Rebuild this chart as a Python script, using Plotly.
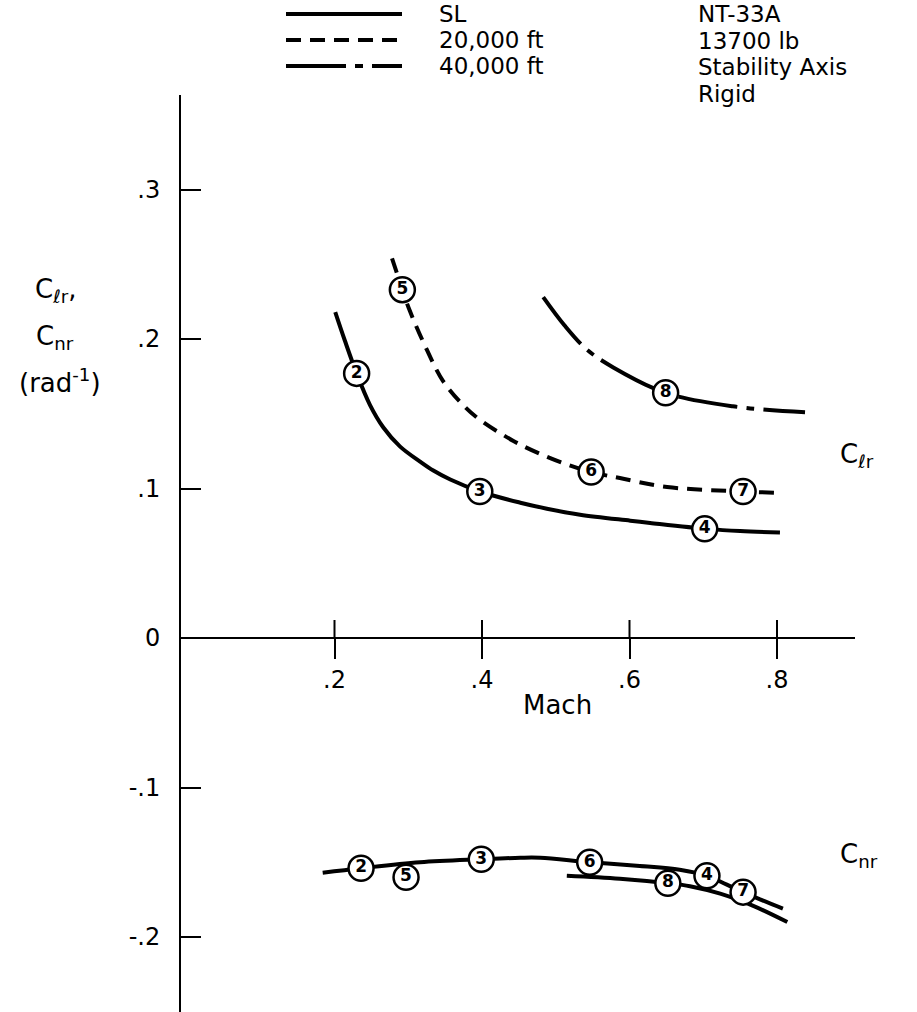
import plotly.graph_objects as go

# ---------------------------------------------------------------
# NT-33A yaw-rate derivatives vs Mach (stability axis, rigid)
# ---------------------------------------------------------------

# Cl_r faired curves
sl_clr_mach = [0.201, 0.214, 0.230, 0.248, 0.266, 0.289, 0.316, 0.334, 0.357,
               0.397, 0.452, 0.488, 0.533, 0.601, 0.628, 0.705, 0.750, 0.804]
sl_clr = [0.218, 0.199, 0.177, 0.156, 0.141, 0.128, 0.118, 0.112, 0.106,
          0.098, 0.0905, 0.0865, 0.0825, 0.0785, 0.077, 0.073, 0.0715, 0.0705]

ft20k_clr_mach = [0.278, 0.292, 0.302, 0.325, 0.347, 0.374, 0.397, 0.442,
                  0.475, 0.510, 0.548, 0.587, 0.651, 0.754, 0.808]
ft20k_clr = [0.254, 0.233, 0.219, 0.193, 0.172, 0.156, 0.146, 0.132,
             0.124, 0.117, 0.111, 0.107, 0.101, 0.098, 0.097]

ft40k_clr_mach = [0.483, 0.512, 0.542, 0.578, 0.649, 0.740, 0.838]
ft40k_clr = [0.228, 0.209, 0.193, 0.181, 0.164, 0.155, 0.151]

# Cn_r faired curves
cnr_upper_mach = [0.184, 0.236, 0.316, 0.399, 0.452, 0.479, 0.546, 0.614,
                  0.668, 0.705, 0.732, 0.773, 0.808]
cnr_upper = [-0.157, -0.154, -0.150, -0.148, -0.147, -0.147, -0.150, -0.1525,
             -0.155, -0.159, -0.165, -0.174, -0.181]

cnr_lower_mach = [0.515, 0.587, 0.652, 0.682, 0.723, 0.767, 0.814]
cnr_lower = [-0.159, -0.161, -0.164, -0.166, -0.171, -0.179, -0.190]

# Flight conditions (circled numbers)
cond_labels = ["2", "3", "4", "5", "6", "7", "8"]
cond_clr_mach = [0.230, 0.397, 0.702, 0.292, 0.548, 0.754, 0.649]
cond_clr = [0.177, 0.098, 0.073, 0.233, 0.111, 0.098, 0.164]
cond_cnr_mach = [0.236, 0.399, 0.705, 0.297, 0.546, 0.754, 0.652]
cond_cnr = [-0.154, -0.148, -0.159, -0.160, -0.150, -0.170, -0.164]

# Axis ticks
x_tickvals = [0.2, 0.4, 0.6, 0.8]
x_ticktext = [".2", ".4", ".6", ".8"]
y_tickvals = [-0.2, -0.1, 0.0, 0.1, 0.2, 0.3]
y_ticktext = ["-.2", "-.1", "0", ".1", ".2", ".3"]

# Legend / annotation text
legend_names = ["SL", "20,000 ft", "40,000 ft"]
info_lines = ["NT-33A", "13700 lb", "Stability Axis", "Rigid"]

# ---------------------------------------------------------------
W, H = 917, 1012
M_L, M_R, M_T, M_B = 181, 62, 95, 0
FONT = "DejaVu Sans"
INK = "black"
DASH_20K = "15px,9px"
DASH_40K = "60px,9px,8px,9px"


def paper(xp, yp):
    """Convert page pixels to paper coordinates."""
    return ((xp - M_L) / (W - M_L - M_R), (H - M_B - yp) / (H - M_T - M_B))


fig = go.Figure()

line_style = dict(color=INK, width=4, shape="spline", smoothing=1.0)

fig.add_trace(go.Scatter(x=sl_clr_mach, y=sl_clr, mode="lines",
                         line=line_style, name="SL Clr"))
fig.add_trace(go.Scatter(x=ft20k_clr_mach, y=ft20k_clr, mode="lines",
                         line=dict(line_style, dash=DASH_20K), name="20k Clr"))
fig.add_trace(go.Scatter(x=ft40k_clr_mach, y=ft40k_clr, mode="lines",
                         line=dict(line_style, dash=DASH_40K), name="40k Clr"))
fig.add_trace(go.Scatter(x=cnr_upper_mach, y=cnr_upper, mode="lines",
                         line=line_style, name="Cnr a"))
fig.add_trace(go.Scatter(x=cnr_lower_mach, y=cnr_lower, mode="lines",
                         line=line_style, name="Cnr b"))

marker_style = dict(size=25, color="white", line=dict(color=INK, width=2.5))
num_font = dict(family=FONT, size=17, color=INK, weight="bold")
for xs, ys in ((cond_clr_mach, cond_clr), (cond_cnr_mach, cond_cnr)):
    fig.add_trace(go.Scatter(x=xs, y=ys, mode="markers+text", text=cond_labels,
                             textposition="middle center", textfont=num_font,
                             marker=marker_style, cliponaxis=False))

shapes = []
annotations = []

# Upper half of the crossing Mach ticks
for v in x_tickvals:
    shapes.append(dict(type="line", xref="x", yref="y", ysizemode="pixel",
                       yanchor=0, x0=v, x1=v, y0=0, y1=18,
                       line=dict(color=INK, width=2)))

# Legend keys
legend_dash = ["solid", DASH_20K, DASH_40K]
legend_y = [14, 40, 66]
text_font = dict(family=FONT, size=23, color=INK)
label_font = dict(family=FONT, size=26, color=INK)
for name, dash, yp in zip(legend_names, legend_dash, legend_y):
    x0, y0 = paper(286, yp)
    x1, _ = paper(402, yp)
    shapes.append(dict(type="line", xref="paper", yref="paper",
                       x0=x0, x1=x1, y0=y0, y1=y0,
                       line=dict(color=INK, width=4, dash=dash)))
    tx, ty = paper(437, yp)
    annotations.append(dict(text=name, xref="paper", yref="paper", x=tx, y=ty,
                            xanchor="left", yanchor="middle", showarrow=False,
                            font=text_font))

for txt, yp in zip(info_lines, [14, 41, 67, 94]):
    tx, ty = paper(696, yp)
    annotations.append(dict(text=txt, xref="paper", yref="paper", x=tx, y=ty,
                            xanchor="left", yanchor="middle", showarrow=False,
                            font=text_font))

# Axis titles and curve labels
for txt, xp, yp in [("C<sub>ℓr</sub>,", 55, 290),
                    ("C<sub>nr</sub>", 55, 337),
                    ("(rad<sup>-1</sup>)", 60, 381),
                    ("Mach", 557, 705),
                    ("C<sub>ℓr</sub>", 857, 455),
                    ("C<sub>nr</sub>", 859, 855)]:
    tx, ty = paper(xp, yp)
    annotations.append(dict(text=txt, xref="paper", yref="paper", x=tx, y=ty,
                            xanchor="center", yanchor="middle", showarrow=False,
                            font=label_font))

x_range = [(M_L - 187) / 737.5, (W - M_R - 187) / 737.5]
y_range = [(638 - (H - M_B)) / 1495, (638 - M_T) / 1495]
x_axis_pos = paper(0, 638)[1]

tick_font = dict(family=FONT, size=24, color=INK)

fig.update_layout(
    width=W, height=H,
    margin=dict(l=M_L, r=M_R, t=M_T, b=M_B, autoexpand=False),
    paper_bgcolor="white", plot_bgcolor="white",
    showlegend=False,
    shapes=shapes, annotations=annotations,
    xaxis=dict(range=x_range, anchor="free", position=x_axis_pos,
               showgrid=False, zeroline=False, showline=False,
               tickvals=x_tickvals, ticktext=x_ticktext,
               ticks="outside", ticklen=20, tickwidth=2, tickcolor=INK,
               tickfont=tick_font, ticklabelstandoff=0),
    yaxis=dict(range=y_range, showgrid=False,
               zeroline=True, zerolinecolor=INK, zerolinewidth=2,
               showline=True, linecolor=INK, linewidth=2,
               tickvals=y_tickvals, ticktext=y_ticktext,
               ticks="inside", ticklen=20, tickwidth=2, tickcolor=INK,
               tickfont=tick_font, ticklabelstandoff=14),
)

fig.write_html("out.html")
